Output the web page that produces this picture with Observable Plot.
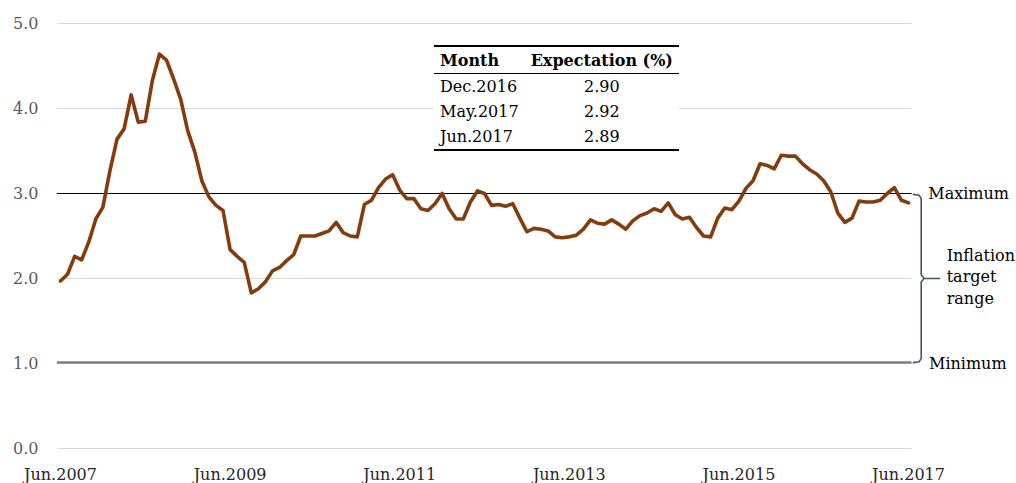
<!DOCTYPE html>
<html>
<head>
<meta charset="utf-8">
<script src="https://cdn.jsdelivr.net/npm/d3@7"></script>
<script src="https://cdn.jsdelivr.net/npm/@observablehq/plot@0.6"></script>
<style>
  html, body { margin: 0; padding: 0; background: #fff; }
  #wrap { position: relative; width: 1016px; height: 483px; overflow: hidden; font-family: "DejaVu Serif", serif; }
  #tbl { position: absolute; left: 434px; top: 45px; width: 244px; border-collapse: collapse; background: #fff; font-size: 16px; color: #000; }
  #tbl th, #tbl td { padding: 0 6px; height: 25px; line-height: 25px; white-space: nowrap; }
  #tbl thead th { border-top: 2px solid #000; border-bottom: 1.5px solid #000; height: 26px; font-weight: bold; }
  #tbl tbody tr:last-child td { border-bottom: 2px solid #000; }
  #tbl .c1 { text-align: left; }
  #tbl .c2 { text-align: center; }
  #tbl thead .c2 { text-align: right; }
</style>
</head>
<body>
<div id="wrap"></div>
<script>
// Monthly inflation expectation (%), Jun.2007 .. Jun.2017 (121 months)
const expectation = [
  1.97, 2.05, 2.26, 2.22, 2.43, 2.70, 2.84, 3.27, 3.64, 3.76,
  4.16, 3.84, 3.85, 4.33, 4.64, 4.57, 4.35, 4.11, 3.74, 3.49,
  3.15, 2.96, 2.86, 2.80, 2.34, 2.26, 2.19, 1.83, 1.88, 1.96,
  2.09, 2.13, 2.21, 2.28, 2.50, 2.50, 2.50, 2.53, 2.56, 2.66,
  2.54, 2.50, 2.49, 2.87, 2.92, 3.07, 3.17, 3.22, 3.04, 2.94,
  2.94, 2.82, 2.80, 2.88, 3.00, 2.82, 2.70, 2.70, 2.90, 3.03,
  3.00, 2.86, 2.87, 2.85, 2.88, 2.71, 2.55, 2.59, 2.58, 2.56,
  2.49, 2.48, 2.49, 2.51, 2.58, 2.69, 2.65, 2.64, 2.69, 2.64,
  2.58, 2.68, 2.74, 2.77, 2.82, 2.79, 2.89, 2.75, 2.70, 2.72,
  2.60, 2.50, 2.49, 2.71, 2.83, 2.81, 2.91, 3.06, 3.15, 3.35,
  3.33, 3.29, 3.45, 3.44, 3.44, 3.35, 3.28, 3.23, 3.15, 3.02,
  2.77, 2.66, 2.71, 2.91, 2.90, 2.90, 2.92, 3.00, 3.07, 2.92,
  2.89
];
const xTickLabels = ["Jun.2007", "Jun.2009", "Jun.2011", "Jun.2013", "Jun.2015", "Jun.2017"];
const yTicks = [0, 1, 2, 3, 4, 5];
const targetMax = 3;
const targetMin = 1;
const tableMonths = ["Dec.2016", "May.2017", "Jun.2017"];
const tableValues = ["2.90", "2.92", "2.89"];

const data = expectation.map((v, i) => ({i, v}));
const last = expectation.length - 1;
const mid = (targetMax + targetMin) / 2;

// curly bracket path in data space
const bracket = [
  {i: last + 0.7, v: targetMax - 0.01},
  {i: last + 1.5, v: targetMax - 0.02},
  {i: last + 1.8, v: targetMax - 0.06},
  {i: last + 1.8, v: mid + 0.04},
  {i: last + 2.2, v: mid},
  {i: last + 4.4, v: mid},
  {i: last + 2.2, v: mid},
  {i: last + 1.8, v: mid - 0.04},
  {i: last + 1.8, v: targetMin + 0.06},
  {i: last + 1.5, v: targetMin + 0.02},
  {i: last + 0.7, v: targetMin + 0.01}
];

const chart = Plot.plot({
  width: 1016,
  height: 483,
  marginLeft: 60,
  marginRight: 108,
  marginTop: 23,
  marginBottom: 35,
  style: {fontFamily: "DejaVu Serif, serif", fontSize: "16px", background: "#fff", overflow: "visible"},
  x: {domain: [0, last]},
  y: {domain: [0, 5]},
  marks: [
    Plot.ruleY(yTicks, {x1: -0.45, x2: last + 0.5, stroke: "#d9d9d9", strokeWidth: 1}),
    Plot.ruleY([targetMin], {x1: -0.45, x2: last + 0.5, stroke: "#7f7f7f", strokeWidth: 2.5, dy: -1}),
    Plot.ruleY([targetMax], {x1: -0.45, x2: last + 0.5, stroke: "#000", strokeWidth: 1.2}),
    Plot.axisY({ticks: yTicks, tickFormat: d3.format(".1f"), tickSize: 0, tickPadding: 22, fill: "#595959", label: null}),
    Plot.axisX({ticks: [0, 24, 48, 72, 96, 120], tickFormat: d => xTickLabels[d / 24], tickSize: 0, tickPadding: 20, fill: "#262626", label: null}),
    Plot.line(data, {x: "i", y: "v", stroke: "#843c0c", strokeWidth: 3.6, strokeLinejoin: "round"}),
    Plot.line(bracket, {x: "i", y: "v", stroke: "#44546a", strokeWidth: 1.6, curve: "linear", strokeLinejoin: "round"}),
    Plot.text(["Maximum"], {x: last + 2.8, y: targetMax, textAnchor: "start", fill: "#000"}),
    Plot.text(["Minimum"], {x: last + 2.9, y: targetMin, textAnchor: "start", fill: "#000"}),
    Plot.text(["Inflation\ntarget\nrange"], {x: last + 5.4, y: mid, dy: -3, textAnchor: "start", lineHeight: 1.35, fill: "#000"})
  ]
});

const wrap = document.getElementById("wrap");
wrap.appendChild(chart);

// table overlay
const tbl = document.createElement("table");
tbl.id = "tbl";
let html = '<thead><tr><th class="c1">Month</th><th class="c2">Expectation (%)</th></tr></thead><tbody>';
tableMonths.forEach((m, k) => {
  html += `<tr><td class="c1">${m}</td><td class="c2">${tableValues[k]}</td></tr>`;
});
html += '</tbody>';
tbl.innerHTML = html;
wrap.appendChild(tbl);
</script>
</body>
</html>
